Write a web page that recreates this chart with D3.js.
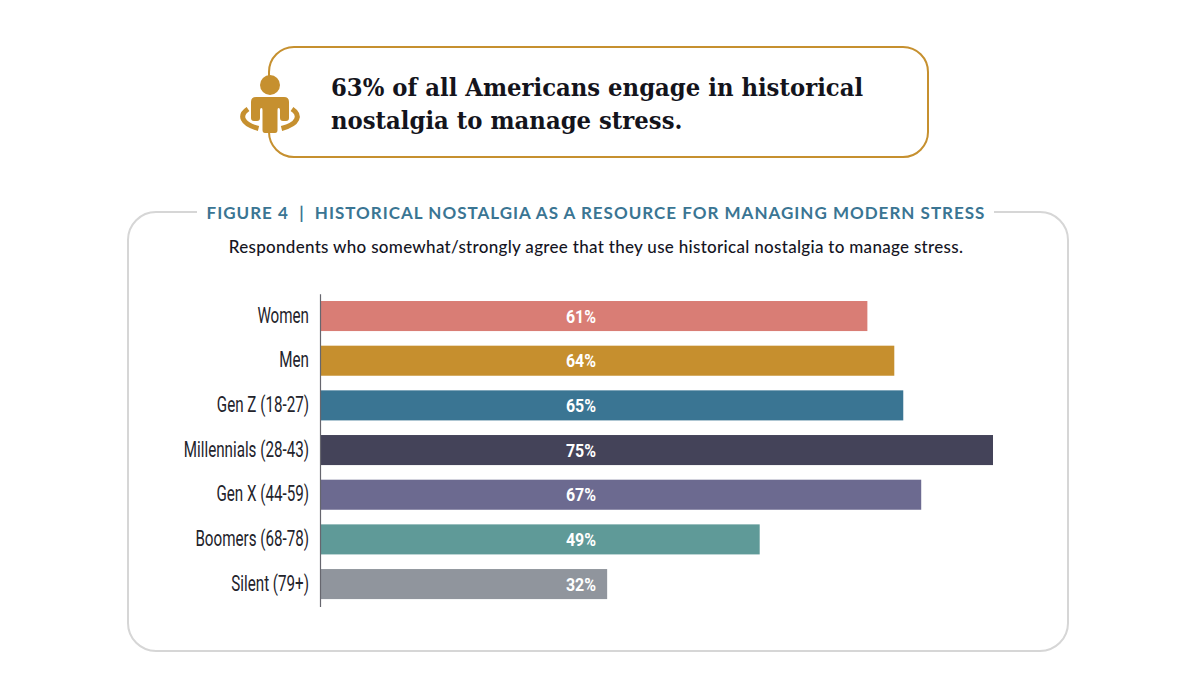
<!DOCTYPE html>
<html>
<head>
<meta charset="utf-8">
<script src="https://cdn.jsdelivr.net/npm/d3@7"></script>
<style>
  html, body { margin: 0; padding: 0; background: #fff; }
  svg { display: block; }
</style>
</head>
<body>
<svg id="chart" width="1200" height="685"></svg>
<script>
const categories = ["Women", "Men", "Gen Z (18-27)", "Millennials (28-43)", "Gen X (44-59)", "Boomers (68-78)", "Silent (79+)"];
const values = [61, 64, 65, 75, 67, 49, 32];
const barColors = ["#d97d75", "#c68f2e", "#3a7593", "#444359", "#6c6a90", "#5f9a98", "#90959d"];
const calloutLines = ["63% of all Americans engage in historical", "nostalgia to manage stress."];
const figureTitle = "FIGURE 4  |  HISTORICAL NOSTALGIA AS A RESOURCE FOR MANAGING MODERN STRESS";
const subtitle = "Respondents who somewhat/strongly agree that they use historical nostalgia to manage stress.";

const gold = "#c6902f";
const svg = d3.select("#chart");

// callout outline, open on the left where the icon sits
svg.append("path")
  .attr("d", "M269,76 V72 A25,25 0 0 1 294,47 H903 A25,25 0 0 1 928,72 V132 A25,25 0 0 1 903,157 H294 A25,25 0 0 1 269,132 V128")
  .attr("fill", "none")
  .attr("stroke", gold)
  .attr("stroke-width", 2);

// person icon
const icon = svg.append("g").attr("fill", gold);
icon.append("circle").attr("cx", 270).attr("cy", 85).attr("r", 10);
icon.append("path")
  .attr("d", "M256,97 H284 Q289,97 289,102 V118 Q289,121 286,121 H283 Q280,121 280,118 V110 Q280,108 278.5,108 Q277.5,108 277.5,110 V130 Q277.5,133 275,133 H265 Q262.5,133 262.5,130 V110 Q262.5,108 261.5,108 Q260,108 260,110 V118 Q260,121 257,121 H254 Q251,121 251,118 V102 Q251,97 256,97 Z");
svg.append("g")
  .attr("fill", "none")
  .attr("stroke", gold)
  .attr("stroke-width", 5)
  .selectAll("path")
  .data(["M248,109 C239,115 241,124 258.5,128.5", "M292,109 C301,115 299,124 281.5,128.5"])
  .join("path")
  .attr("d", d => d);

svg.append("g")
  .selectAll("text")
  .data(calloutLines)
  .join("text")
  .attr("transform", (d, i) => `translate(331,${96 + i * 32.5}) scale(0.95,1)`)
  .attr("font-family", "'DejaVu Serif', serif")
  .attr("font-weight", "bold")
  .attr("font-size", 24)
  .attr("fill", "#14141c")
  .text(d => d);

// figure card, open at the top for the title
svg.append("path")
  .attr("d", "M197,212 H156 A28,28 0 0 0 128,240 V623 A28,28 0 0 0 156,651 H1040 A28,28 0 0 0 1068,623 V240 A28,28 0 0 0 1040,212 H994")
  .attr("fill", "none")
  .attr("stroke", "#d6d6d6")
  .attr("stroke-width", 2);

svg.append("text")
  .attr("x", 596)
  .attr("y", 218.5)
  .attr("text-anchor", "middle")
  .style("white-space", "pre")
  .attr("font-family", "Lato, sans-serif")
  .attr("font-weight", "bold")
  .attr("font-size", 17)
  .attr("letter-spacing", 1)
  .attr("fill", "#3a7593")
  .text(figureTitle);

svg.append("text")
  .attr("x", 596)
  .attr("y", 252.5)
  .attr("text-anchor", "middle")
  .attr("font-family", "Lato, sans-serif")
  .attr("font-weight", 500)
  .attr("font-size", 17)
  .attr("letter-spacing", 0.3)
  .attr("fill", "#15151f")
  .text(subtitle);

// scales
const xScale = d3.scaleLinear().domain([0, 75]).range([320, 993]);
const yScale = d3.scaleBand()
  .domain(categories)
  .range([293.7, 606.4])
  .paddingInner(0.3274)
  .paddingOuter(0.1637);

// bars
svg.append("g")
  .selectAll("rect")
  .data(categories)
  .join("rect")
  .attr("x", xScale(0))
  .attr("y", d => yScale(d))
  .attr("width", (d, i) => xScale(values[i]) - xScale(0))
  .attr("height", yScale.bandwidth())
  .attr("fill", (d, i) => barColors[i]);

// value labels all sit on one centre line, condensed by hand since no narrow font is installed
svg.append("g")
  .selectAll("text")
  .data(categories)
  .join("text")
  .attr("transform", d => `translate(581,${yScale(d) + yScale.bandwidth() / 2 + 6.5}) scale(0.84,1)`)
  .attr("text-anchor", "middle")
  .attr("font-family", "Roboto, sans-serif")
  .attr("font-weight", "bold")
  .attr("font-size", 19)
  .attr("fill", "#fff")
  .text((d, i) => values[i] + "%");

// category axis
const yAxis = d3.axisLeft(yScale).tickSize(0).tickPadding(0);
const axisG = svg.append("g")
  .attr("transform", `translate(${xScale(0)},0)`)
  .call(yAxis);
axisG.select(".domain").attr("stroke", "#66666e").attr("stroke-width", 1.2);
axisG.selectAll("text")
  .attr("x", 0)
  .attr("transform", "translate(-11,-0.5) scale(0.69,1)")
  .attr("font-family", "Roboto, sans-serif")
  .attr("font-size", 22)
  .attr("fill", "#23232b");
</script>
</body>
</html>
